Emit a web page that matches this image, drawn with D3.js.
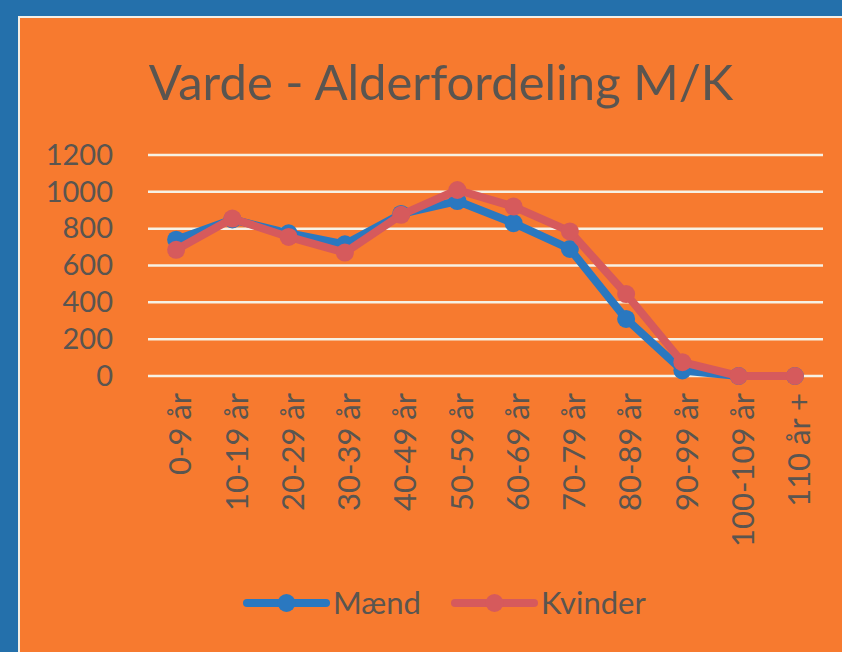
<!DOCTYPE html>
<html>
<head>
<meta charset="utf-8">
<script src="https://cdn.jsdelivr.net/npm/d3@7"></script>
<style>
  body { margin: 0; background: #2470ab; }
  svg { display: block; }
  text { font-family: Lato, "Open Sans", sans-serif; fill: #5a5550; }
</style>
</head>
<body>
<svg id="chart"></svg>
<script>
// age groups and counts
const categories = ['0-9 år', '10-19 år', '20-29 år', '30-39 år', '40-49 år', '50-59 år',
    '60-69 år', '70-79 år', '80-89 år', '90-99 år', '100-109 år', '110 år +'];
const maend   = [740, 850, 775, 715, 880, 950, 830, 690, 310, 30, 0, 0];
const kvinder = [685, 855, 755, 670, 875, 1010, 920, 785, 445, 75, 0, 0];
const yTicks  = [0, 200, 400, 600, 800, 1000, 1200];

const series = [
    {name: 'Mænd', values: maend, color: '#2a78c0'},
    {name: 'Kvinder', values: kvinder, color: '#d65a5c'}
];

const W = 842, H = 652;
const svg = d3.select('#chart').attr('width', W).attr('height', H);

// orange panel with thin light edge
svg.append('rect')
    .attr('x', 19).attr('y', 17)
    .attr('width', W - 18).attr('height', H - 16)
    .attr('fill', '#f77a2f')
    .attr('stroke', '#f4efe6').attr('stroke-width', 2);

// title
svg.append('text')
    .attr('x', 441).attr('y', 100)
    .attr('text-anchor', 'middle')
    .style('font-size', '49px')
    .text('Varde - Alderfordeling M/K');

const x = d3.scalePoint()
    .domain(categories)
    .range([148, 823])
    .padding(0.5);

const y = d3.scaleLinear()
    .domain([0, 1200])
    .range([376, 155]);

// gridlines
svg.append('g')
    .selectAll('line')
    .data(yTicks)
    .join('line')
    .attr('x1', 148).attr('x2', 823)
    .attr('y1', d => y(d)).attr('y2', d => y(d))
    .attr('stroke', '#f6f1e4')
    .attr('stroke-width', 2.5);

// y axis labels
const yAxis = d3.axisLeft(y).tickValues(yTicks).tickFormat(d3.format('d'))
    .tickSize(0).tickPadding(0);
svg.append('g')
    .attr('transform', 'translate(113,0)')
    .call(yAxis)
    .call(g => g.select('.domain').remove())
    .selectAll('text')
    .style('font-size', '29px')
    .attr('fill', '#5a5550');

// x axis labels, rotated
const xAxis = d3.axisBottom(x).tickSize(0).tickPadding(0);
svg.append('g')
    .attr('transform', 'translate(4,393)')
    .call(xAxis)
    .call(g => g.select('.domain').remove())
    .selectAll('text')
    .style('font-size', '31px')
    .attr('fill', '#5a5550')
    .attr('text-anchor', 'end')
    .attr('dy', '0.35em')
    .attr('transform', 'rotate(-90)');

// lines and markers
const line = d3.line()
    .x((d, i) => x(categories[i]))
    .y(d => y(d));

series.forEach(s => {
    const g = svg.append('g');
    g.append('path')
        .datum(s.values)
        .attr('d', line)
        .attr('fill', 'none')
        .attr('stroke', s.color)
        .attr('stroke-width', 8)
        .attr('stroke-linejoin', 'round');
    g.selectAll('circle')
        .data(s.values)
        .join('circle')
        .attr('cx', (d, i) => x(categories[i]))
        .attr('cy', d => y(d))
        .attr('r', 9)
        .attr('fill', s.color);
});

// legend
const legend = svg.append('g').attr('transform', 'translate(247,603)');
const legendX = [0, 208];
series.forEach((s, i) => {
    const g = legend.append('g').attr('transform', `translate(${legendX[i]},0)`);
    g.append('line')
        .attr('x1', 0).attr('x2', 79)
        .attr('stroke', s.color).attr('stroke-width', 8)
        .attr('stroke-linecap', 'round');
    g.append('circle').attr('cx', 39.5).attr('r', 9).attr('fill', s.color);
    g.append('text')
        .attr('x', 86).attr('y', 11)
        .style('font-size', '31px')
        .text(s.name);
});
</script>
</body>
</html>
